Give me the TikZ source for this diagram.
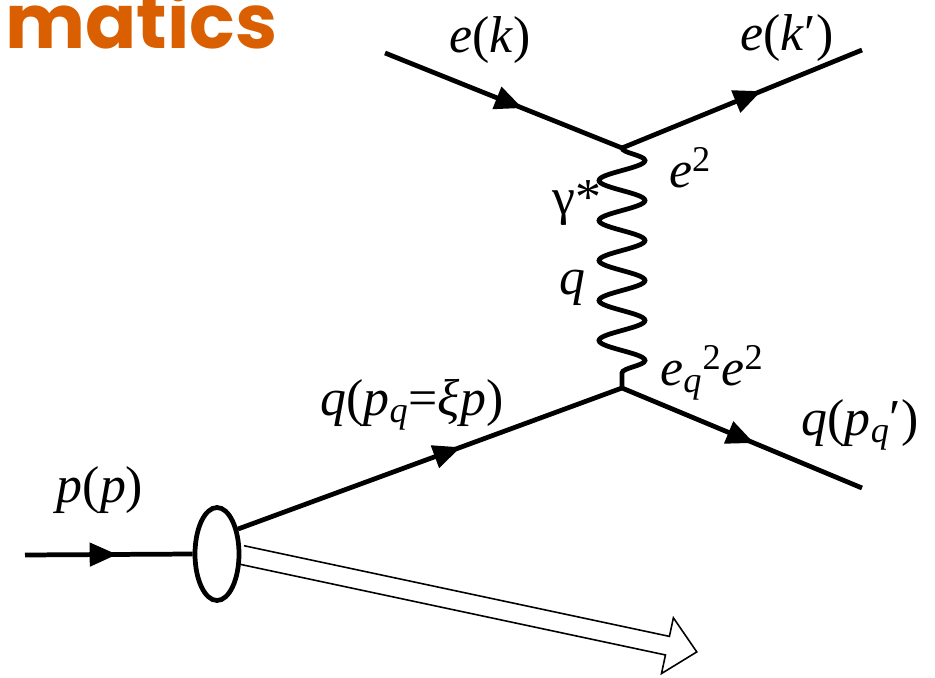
\documentclass[tikz,border=0pt]{standalone}
\usepackage{fontspec}
\setmainfont{Liberation Serif}
\newfontfamily\titlefont{Poppins}
\usetikzlibrary{positioning,arrows.meta,shapes.geometric,decorations.markings,decorations.pathmorphing}
\definecolor{accent}{RGB}{217,95,0}
\newcommand{\vi}[1]{\textit{#1}}
\tikzset{
  fermion/.style={line width=2.7pt,postaction={decorate},
    decoration={markings,mark=at position #1 with {\arrow{Triangle[length=5.5mm,width=4.6mm]}}}},
  fermion/.default=0.58,
  photon/.style={line width=2.7pt,decorate,
    decoration={snake,segment length=8mm,amplitude=4.6mm}},
  blob/.style={ellipse,draw,line width=2.7pt,fill=white,inner sep=0pt,
    minimum width=0.88cm,minimum height=1.86cm},
  remnant/.style={draw,line width=0.9pt,line join=miter},
  lbl/.style={font=\fontsize{29.5}{34}\selectfont,inner sep=0pt},
}
\begin{document}
\begin{tikzpicture}[x=0.02cm,y=-0.02cm]
  \useasboundingbox (0,0) rectangle (935,678);
  \node[anchor=base west,inner sep=0pt,text=accent,
    font=\titlefont\bfseries\fontsize{43}{46}\selectfont] (title) at (5,49) {matics};

  % vertices and free ends
  \coordinate (vtop) at (622,148);
  \coordinate (vbot) at (622,388);
  \coordinate (ein) at (385,53);
  \coordinate (eout) at (862,50);
  \coordinate (qout) at (862,488);
  \coordinate (pin) at (25,555);
  \coordinate (remS) at (242,555);

  % proton remnant
  \begin{scope}[shift={(remS)},rotate=-12.03]
    \draw[remnant] (0,-9.5) -- (435,-9.5) -- (435,-28.5) -- (465,0)
      -- (435,28.5) -- (435,9.5) -- (0,9.5);
  \end{scope}

  \node[blob] (prot) at (217,554) {};

  \draw[fermion] (ein) -- (vtop);
  \draw[fermion] (vtop) -- (eout);
  \draw[photon] (vtop) -- (vbot);
  \draw[fermion] (prot.50) -- (vbot);
  \draw[fermion=0.55] (vbot) -- (qout);
  \draw[fermion=0.55] (pin) -- (prot.west);

  \node[lbl] (lek) at (490,40) {\vi{e}(\vi{k})};
  \node[lbl] (lekp) at (787,38) {\vi{e}(\vi{k}\char"2032)};
  \node[lbl] (lee) at (690,168) {\vi{e}\textsuperscript{2}};
  \node[lbl] (lgam) at (577,203) {γ*};
  \node[lbl] (lq) at (572,288) {\vi{q}};
  \node[lbl] (leqe) at (712,373) {\vi{e}\textsubscript{\vi{q}}\textsuperscript{2}\vi{e}\textsuperscript{2}};
  \node[lbl] (lqin) at (412,405) {\vi{q}(\vi{p}\textsubscript{\vi{q}}=\vi{ξp})};
  \node[lbl] (lqout) at (860,425) {\vi{q}(\vi{p}\textsubscript{\vi{q}}\char"2032)};
  \node[lbl] (lpp) at (100,490) {\vi{p}(\vi{p})};
\end{tikzpicture}
\end{document}
